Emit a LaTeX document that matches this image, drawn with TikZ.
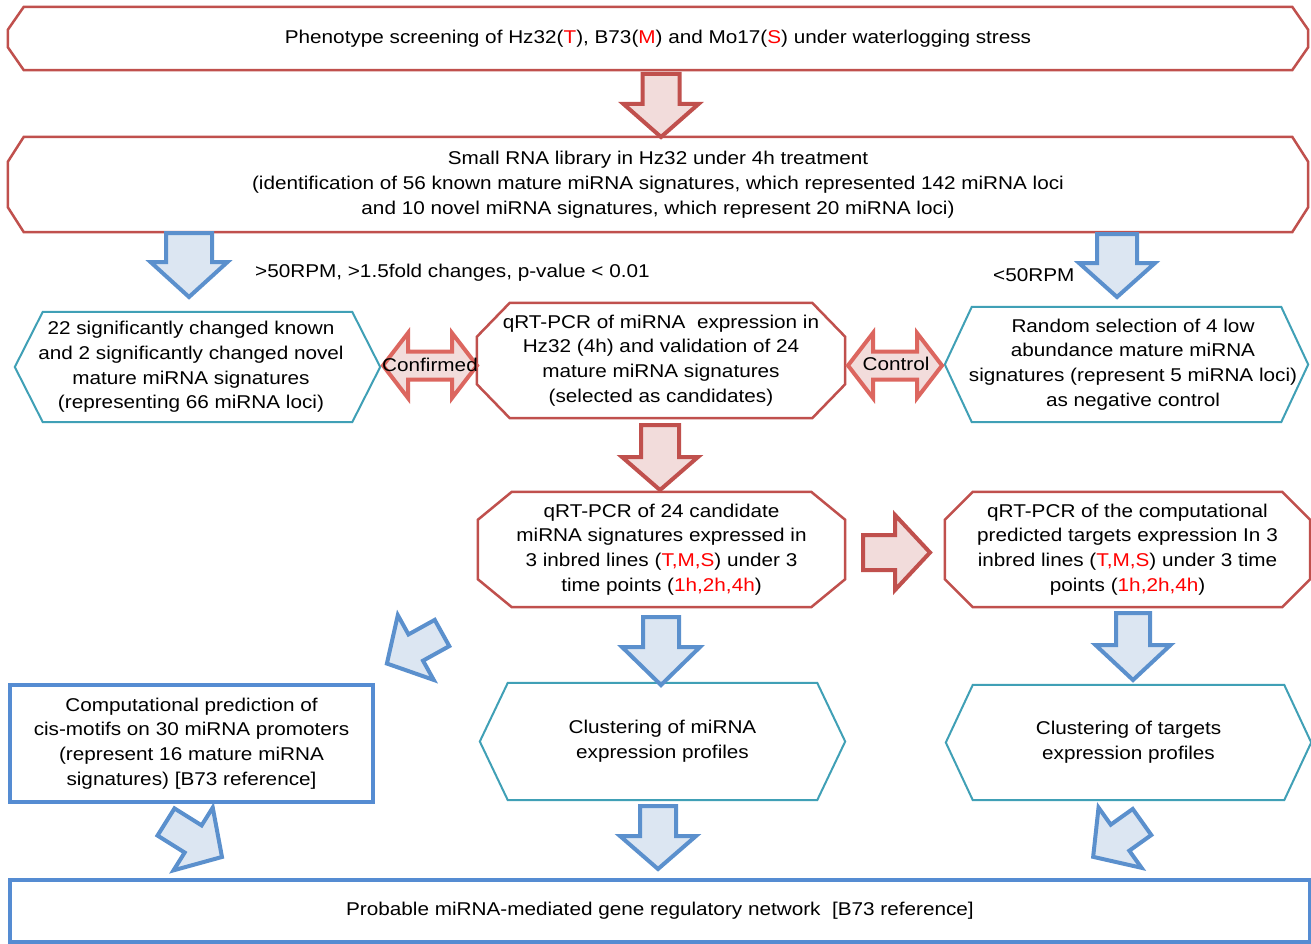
\documentclass[tikz,border=0pt]{standalone}
\usepackage{fontspec}
\setmainfont{Liberation Sans}[FakeStretch=1.12]
\usetikzlibrary{calc}
\definecolor{boxred}{RGB}{192,80,77}
\definecolor{redfill}{RGB}{242,220,219}
\definecolor{dblred}{RGB}{220,102,95}
\definecolor{arrblue}{RGB}{91,144,205}
\definecolor{bluefill}{RGB}{220,230,242}
\definecolor{boxteal}{RGB}{64,160,182}
\definecolor{rectblue}{RGB}{85,140,210}
\definecolor{txtred}{RGB}{255,0,0}
\newcommand{\rt}[1]{\textcolor{txtred}{#1}}
\newcommand{\myocto}[4]{\draw[#4] ($(#1.north west)+(#2,0)$) -- ($(#1.north east)+(-#2,0)$) -- ($(#1.north east)+(0,#3)$) -- ($(#1.south east)+(0,-#3)$) -- ($(#1.south east)+(-#2,0)$) -- ($(#1.south west)+(#2,0)$) -- ($(#1.south west)+(0,-#3)$) -- ($(#1.north west)+(0,#3)$) -- cycle;}
\newcommand{\myhexa}[3]{\draw[#3] ($(#1.north west)+(#2,0)$) -- ($(#1.north east)+(-#2,0)$) -- (#1.east) -- ($(#1.south east)+(-#2,0)$) -- ($(#1.south west)+(#2,0)$) -- (#1.west) -- cycle;}
\tikzset{
  txt/.style={align=center, font=\fontsize{18.5}{24.8}\selectfont, inner sep=0pt, text=black},
  redbox/.style={draw=boxred, line width=2.5pt, line join=miter},
  tealbox/.style={draw=boxteal, line width=2pt, line join=miter},
  bluebox/.style={draw=rectblue, line width=4.5pt, line join=miter},
  redarr/.style={draw=boxred, fill=redfill, line width=4pt, line join=miter},
  bluearr/.style={draw=arrblue, fill=bluefill, line width=4pt, line join=miter},
  dblarr/.style={draw=dblred, fill=redfill, line width=4pt, line join=miter},
  pics/barrow/.style n args={4}{code={
    \path[pic actions] (0,-#3) -- ({#1-#2},-#3) -- ({#1-#2},-#4) -- (#1,0) -- ({#1-#2},#4) -- ({#1-#2},#3) -- (0,#3) -- cycle;}},
  pics/dbarrow/.style n args={4}{code={
    \path[pic actions] (0,0) -- (#2,-#4) -- (#2,-#3) -- ({#1-#2},-#3) -- ({#1-#2},-#4) -- (#1,0) -- ({#1-#2},#4) -- ({#1-#2},#3) -- (#2,#3) -- (#2,#4) -- cycle;}}
}
\begin{document}
\begin{tikzpicture}[x=1pt,y=-1pt]
\useasboundingbox (0,0) rectangle (1311,944);
\fill[white] (0,0) rectangle (1311,944);

% boxes
\node[txt, minimum width=1300pt, minimum height=63pt] (b1) at (658,38.5)
  {Phenotype screening of Hz32(\rt{T}), B73(\rt{M}) and Mo17(\rt{S}) under waterlogging stress};
\node[txt, minimum width=1300pt, minimum height=95pt] (b2) at (658,184.5)
  {Small RNA library in Hz32 under 4h treatment\\(identification of 56 known mature miRNA signatures, which represented 142 miRNA loci\\and 10 novel miRNA signatures, which represent 20 miRNA loci)};
\node[txt, minimum width=365pt, minimum height=110pt] (b3) at (197.5,367) {};
\node[txt] (t3) at (191,367) {22 significantly changed known\\and 2 significantly changed novel\\mature miRNA signatures\\(representing 66 miRNA loci)};
\node[txt, minimum width=368pt, minimum height=115pt] (b4) at (661,360.5)
  {qRT-PCR of miRNA~ expression in\\Hz32 (4h) and validation of 24\\mature miRNA signatures\\(selected as candidates)};
\node[txt, minimum width=363pt, minimum height=115pt] (b5) at (1126.5,364.5) {};
\node[txt] (t5) at (1133,364.5) {Random selection of 4 low\\abundance mature miRNA\\signatures (represent 5 miRNA loci)\\as negative control};
\node[txt, minimum width=367pt, minimum height=115pt] (b6) at (661.5,549.5)
  {qRT-PCR of 24 candidate\\miRNA signatures expressed in\\3 inbred lines (\rt{T,M,S}) under 3\\time points (\rt{1h,2h,4h})};
\node[txt, minimum width=365pt, minimum height=115pt] (b7) at (1127.5,549.5)
  {qRT-PCR of the computational\\predicted targets expression In 3\\inbred lines (\rt{T,M,S}) under 3 time\\points (\rt{1h,2h,4h})};
\node[txt, minimum width=363pt, minimum height=117pt] (b8) at (191.5,743.5)
  {Computational prediction of\\cis-motifs on 30 miRNA promoters\\(represent 16 mature miRNA\\signatures) [B73 reference]};
\node[txt, minimum width=365pt, minimum height=117pt] (b9) at (662.5,741.5)
  {Clustering of miRNA\\expression profiles};
\node[txt, minimum width=365pt, minimum height=115pt] (b10) at (1128.5,742.5)
  {Clustering of targets\\expression profiles};
\node[txt, minimum width=1300pt, minimum height=62pt] (b11) at (660,911)
  {Probable miRNA-mediated gene regulatory network~ [B73 reference]};

% outlines
\myocto{b1}{16}{23}{redbox}
\myocto{b2}{16}{25}{redbox}
\myhexa{b3}{28}{tealbox}
\myocto{b4}{33}{34}{redbox}
\myhexa{b5}{27}{tealbox}
\myocto{b6}{34}{28}{redbox}
\myocto{b7}{28}{28}{redbox}
\draw[bluebox] (b8.north west) rectangle (b8.south east);
\myhexa{b9}{28}{tealbox}
\myhexa{b10}{27}{tealbox}
\draw[bluebox] (b11.north west) rectangle (b11.south east);

% labels
\node[txt, anchor=west] (l1) at (255,273) {>50RPM, >1.5fold changes, p-value < 0.01};
\node[txt, anchor=west] (l2) at (993,275) {<50RPM};

% block arrows
\coordinate (a1) at (661,74);
\coordinate (a2) at (660,425);
\coordinate (a3) at (189,233);
\coordinate (a4) at (1117,234);
\coordinate (a5) at (863,552.5);
\coordinate (a6) at (661,617);
\coordinate (a7) at (1133,613);
\coordinate (a8) at (442,633);
\coordinate (a9) at (166,822);
\coordinate (a10) at (658,806);
\coordinate (a11) at (1142,822);
\pic[redarr, rotate=-90] at (a1) {barrow={63}{33}{18.5}{37.5}};
\pic[redarr, rotate=-90] at (a2) {barrow={65}{33}{19}{38}};
\pic[bluearr, rotate=-90] at (a3) {barrow={64}{35}{23}{38.5}};
\pic[bluearr, rotate=-90] at (a4) {barrow={63}{34}{20}{38}};
\pic[redarr] at (a5) {barrow={67}{35}{17.5}{37.5}};
\pic[bluearr, rotate=-90] at (a6) {barrow={68}{38}{18}{39}};
\pic[bluearr, rotate=-90] at (a7) {barrow={67}{35}{17}{37.5}};
\pic[bluearr, rotate=209] at (a8) {barrow={63}{33}{15}{37}};
\pic[bluearr, rotate=-32] at (a9) {barrow={66}{34}{16}{37}};
\pic[bluearr, rotate=-90] at (a10) {barrow={63}{33}{18}{38}};
\pic[bluearr, rotate=215.5] at (a11) {barrow={60}{33}{16}{37}};

% double arrows
\coordinate (d1) at (383,365.5);
\coordinate (d2) at (848,365.5);
\pic[dblarr] at (d1) {dbarrow={94}{25}{14}{32.5}};
\pic[dblarr] at (d2) {dbarrow={94}{25}{14}{32.5}};
\node[txt] (c1) at (430,365) {Confirmed};
\node[txt] (c2) at (896,364) {Control};
\end{tikzpicture}
\end{document}
